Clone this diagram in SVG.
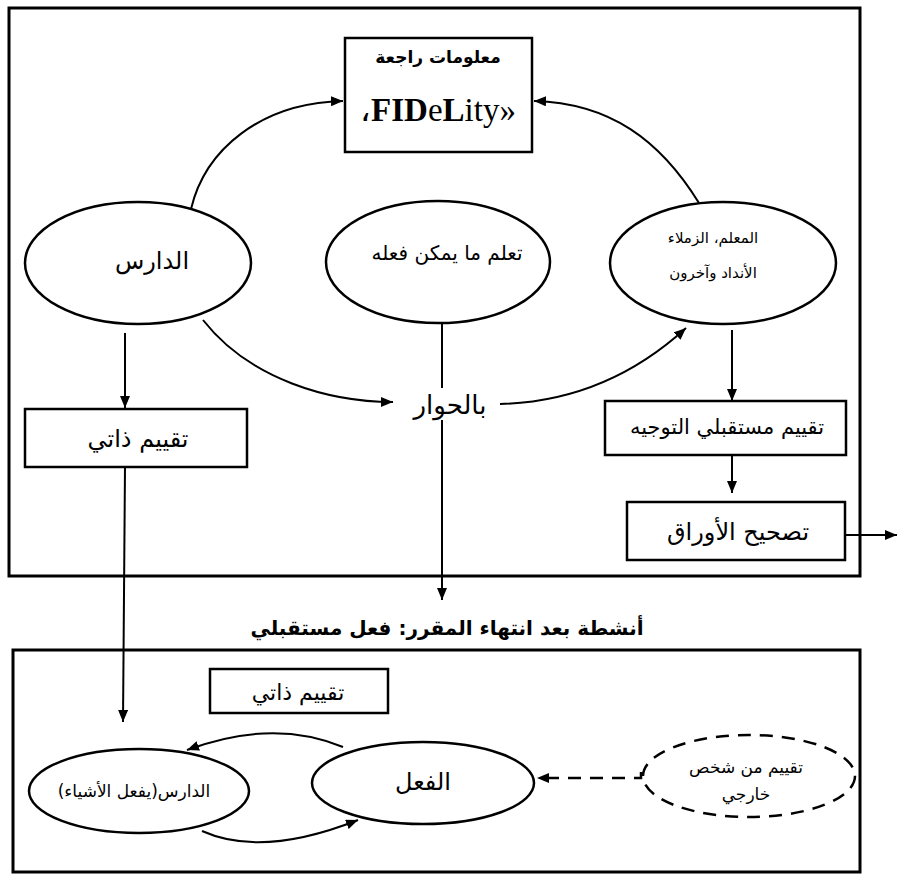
<svg xmlns="http://www.w3.org/2000/svg" width="899" height="889" viewBox="0 0 899 889">
  <style>
    .frame { fill: none; stroke: #000; stroke-width: 3; }
    .box { fill: #fff; stroke: #000; stroke-width: 2.5; }
    .node { fill: #fff; stroke: #000; stroke-width: 2.5; }
    .dashed { fill: none; stroke: #000; stroke-width: 2.5; stroke-dasharray: 13 9; }
    .link { fill: none; stroke: #000; stroke-width: 2; }
    .ar { font-family: "DejaVu Sans", sans-serif; direction: rtl; text-anchor: middle; fill: #000; }
    .lat { font-family: "Liberation Serif", serif; text-anchor: middle; fill: #000; }
  </style>
  <defs>
    <marker id="arrow" viewBox="0 0 12 10" refX="12" refY="5" markerWidth="12" markerHeight="10" markerUnits="userSpaceOnUse" orient="auto">
      <path d="M0,0 L12,5 L0,10 z" fill="#000"/>
    </marker>
  </defs>

  <rect width="899" height="889" fill="#fff"/>

  <!-- course frame and after-course frame -->
  <rect class="frame" x="9" y="8" width="851" height="568"/>
  <rect class="frame" x="13" y="650" width="847" height="222"/>

  <!-- connectors -->
  <g id="connectors">
    <path class="link" d="M191,209 C205,150 260,103 343,101" marker-end="url(#arrow)"/>
    <path class="link" d="M699,203 C660,140 610,103 534,101" marker-end="url(#arrow)"/>
    <path class="link" d="M203,320 C250,380 330,402 393,402" marker-end="url(#arrow)"/>
    <path class="link" d="M500,404 C580,402 640,370 686,328" marker-end="url(#arrow)"/>
    <path class="link" d="M442,323 L442,388"/>
    <path class="link" d="M442,420 L442,600" marker-end="url(#arrow)"/>
    <path class="link" d="M125,333 L125,408" stroke-width="2.5" marker-end="url(#arrow)"/>
    <path class="link" d="M125,467 L123,722" marker-end="url(#arrow)"/>
    <path class="link" d="M732,330 L732,401" stroke-width="2.5" marker-end="url(#arrow)"/>
    <path class="link" d="M732,455 L732,493" stroke-width="2.5" marker-end="url(#arrow)"/>
    <path class="link" d="M845,535 L897,535" stroke-width="2.5" marker-end="url(#arrow)"/>
    <path class="link" d="M343,747 Q273,718 187,750" marker-end="url(#arrow)"/>
    <path class="link" d="M202,831 Q262,858 358,820" marker-end="url(#arrow)"/>
    <path class="dashed" d="M641,772 L641,778 L537,778" stroke-width="2" marker-end="url(#arrow)"/>
  </g>

  <g id="feedback">
    <rect class="box" x="345" y="38" width="187" height="114"/>
    <text class="ar" x="438" y="63" font-size="17" font-weight="bold">معلومات راجعة</text>
    <text class="lat" x="438" y="121" font-size="33" direction="ltr">،<tspan font-weight="bold">FID</tspan>e<tspan font-weight="bold">L</tspan>ity»</text>
  </g>

  <g id="learner">
    <ellipse class="node" cx="138" cy="263" rx="113" ry="61"/>
    <text class="ar" x="152" y="269" font-size="24">الدارس</text>
  </g>

  <g id="learn-what">
    <ellipse class="node" cx="438" cy="262" rx="112" ry="61"/>
    <text class="ar" x="447" y="260" font-size="20">تعلم ما يمكن فعله</text>
  </g>

  <g id="others">
    <ellipse class="node" cx="723" cy="263" rx="113" ry="61"/>
    <text class="ar" x="713" y="243" font-size="15">المعلم، الزملاء</text>
    <text class="ar" x="713" y="278" font-size="15">الأنداد وآخرون</text>
  </g>

  <g id="dialogue">
    <text class="ar" x="450" y="414" font-size="26">بالحوار</text>
  </g>

  <g id="self-assess">
    <rect class="box" x="25" y="409" width="222" height="58"/>
    <text class="ar" x="138" y="447" font-size="24">تقييم ذاتي</text>
  </g>

  <g id="future-assess">
    <rect class="box" x="605" y="401" width="241" height="54"/>
    <text class="ar" x="727" y="434" font-size="21">تقييم مستقبلي التوجيه</text>
  </g>

  <g id="marking">
    <rect class="box" x="627" y="502" width="218" height="58"/>
    <text class="ar" x="738" y="540" font-size="24">تصحيح الأوراق</text>
  </g>

  <g id="after-course">
    <text class="ar" x="447" y="635" font-size="20" font-weight="bold">أنشطة بعد انتهاء المقرر: فعل مستقبلي</text>
  </g>

  <g id="self-assess-2">
    <rect class="box" x="210" y="669" width="178" height="44"/>
    <text class="ar" x="298" y="700" font-size="22">تقييم ذاتي</text>
  </g>

  <g id="learner-doing">
    <ellipse class="node" cx="139" cy="791" rx="110" ry="42"/>
    <text class="ar" x="134" y="797" font-size="17">الدارس(يفعل الأشياء)</text>
  </g>

  <g id="action">
    <ellipse class="node" cx="423" cy="783" rx="111" ry="41"/>
    <text class="ar" x="423" y="790" font-size="24">الفعل</text>
  </g>

  <g id="external">
    <ellipse class="dashed" cx="749" cy="776" rx="106" ry="41"/>
    <text class="ar" x="746" y="773" font-size="17">تقييم من شخص</text>
    <text class="ar" x="746" y="800" font-size="17">خارجي</text>
  </g>
</svg>
